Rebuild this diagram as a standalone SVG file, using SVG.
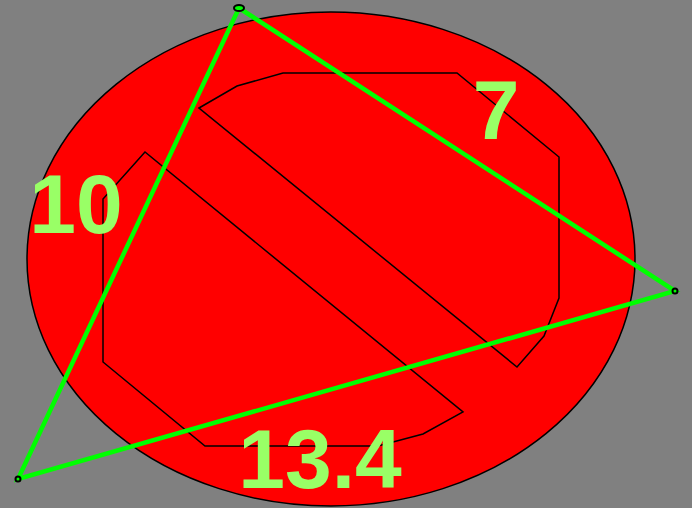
<svg xmlns="http://www.w3.org/2000/svg" width="692" height="508" viewBox="0 0 692 508">
<style>
.shape{fill:none;stroke:#000;stroke-width:1.5;stroke-linejoin:miter}
.edge{stroke:#00ff00;stroke-width:4.5;stroke-linecap:round;fill:none}
.vtx{fill:#00ff00;stroke:#000;stroke-width:2}
.lbl{font-family:"Liberation Sans",Arial,sans-serif;font-weight:bold;font-size:84px;fill:#99ff66;text-anchor:middle}
</style>
<rect width="692" height="508" fill="#808080"/>
<g id="disc">
<ellipse cx="331" cy="259" rx="304" ry="247" fill="#ff0000" stroke="#000" stroke-width="1.5"/>
</g>
<g id="upper-shape">
<polygon class="shape" points="199,108 237,86 283,73 457,73 559,157 559,298 544,336 517,367"/>
</g>
<g id="lower-shape">
<polygon class="shape" points="145,152 103,199 103,362 205,446 378,446 423,434 463,412"/>
</g>
<g id="connectors">
<polyline class="edge" points="239,8 675,291 18,479 239,8"/>
</g>
<g id="vertex-top"><ellipse class="vtx" cx="239" cy="8" rx="5" ry="3"/></g>
<g id="vertex-right"><circle class="vtx" cx="675" cy="291" r="2.5"/></g>
<g id="vertex-left"><circle class="vtx" cx="18" cy="479" r="2.5"/></g>
<g id="labels">
<text class="lbl" x="76" y="233">10</text>
<text class="lbl" x="496" y="139">7</text>
<text class="lbl" x="320" y="488">13.4</text>
</g>
</svg>
